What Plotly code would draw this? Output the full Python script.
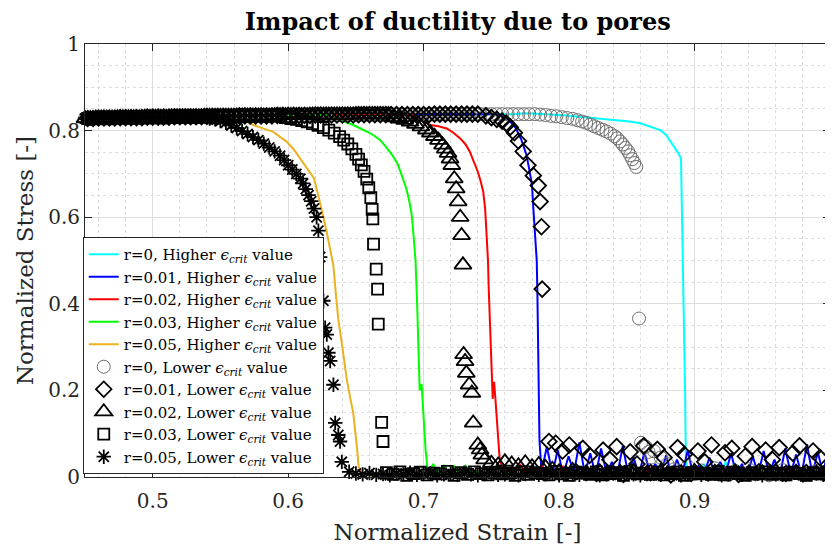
import plotly.graph_objects as go

# ---------------- shared strain grids ----------------
plateau_strain = [
    0.450, 0.454, 0.458, 0.462, 0.466, 0.470, 0.474, 0.478, 0.482, 0.486,
    0.490, 0.494, 0.498, 0.502, 0.506, 0.510, 0.514, 0.518, 0.522, 0.526,
    0.530, 0.534, 0.538, 0.542, 0.546, 0.550, 0.554, 0.558, 0.562, 0.566,
    0.570, 0.574, 0.578, 0.582, 0.586, 0.590, 0.594, 0.598, 0.602, 0.606,
    0.610, 0.614, 0.618, 0.622, 0.626, 0.630, 0.634, 0.638, 0.642, 0.646,
    0.650, 0.654, 0.658, 0.662, 0.666, 0.670, 0.674, 0.678, 0.682, 0.686,
    0.690, 0.694, 0.698, 0.702, 0.706, 0.710, 0.714, 0.718, 0.722, 0.726,
    0.730, 0.734, 0.738, 0.742, 0.746, 0.750, 0.754, 0.758, 0.762, 0.766,
    0.770, 0.774, 0.778]
plateau_strain_mid = [
    0.452, 0.456, 0.460, 0.464, 0.468, 0.472, 0.476, 0.480, 0.484, 0.488,
    0.492, 0.496, 0.500, 0.504, 0.508, 0.512, 0.516, 0.520, 0.524, 0.528,
    0.532, 0.536, 0.540, 0.544, 0.548, 0.552, 0.556, 0.560, 0.564, 0.568,
    0.572, 0.576, 0.580, 0.584, 0.588, 0.592, 0.596, 0.600, 0.604, 0.608,
    0.612, 0.616, 0.620, 0.624, 0.628, 0.632, 0.636, 0.640, 0.644, 0.648,
    0.652, 0.656, 0.660, 0.664, 0.668, 0.672, 0.676, 0.680, 0.684, 0.688,
    0.692, 0.696, 0.700, 0.704, 0.708, 0.712, 0.716, 0.720, 0.724, 0.728,
    0.732, 0.736, 0.740, 0.744, 0.748, 0.752, 0.756, 0.760, 0.764, 0.768,
    0.772, 0.776, 0.780]
plateau_stress = [
    0.828, 0.828, 0.829, 0.829, 0.829, 0.829, 0.830, 0.830, 0.830, 0.830,
    0.830, 0.831, 0.831, 0.831, 0.831, 0.831, 0.832, 0.832, 0.832, 0.832,
    0.832, 0.832, 0.833, 0.833, 0.833, 0.833, 0.833, 0.833, 0.834, 0.834,
    0.834, 0.834, 0.834, 0.834, 0.834, 0.835, 0.835, 0.835, 0.835, 0.835,
    0.835, 0.835, 0.836, 0.836, 0.836, 0.836, 0.836, 0.836, 0.836, 0.836,
    0.837, 0.837, 0.837, 0.837, 0.837, 0.837, 0.837, 0.837, 0.837, 0.837,
    0.837, 0.837, 0.837, 0.837, 0.838, 0.838, 0.838, 0.838, 0.838, 0.838,
    0.838, 0.838, 0.838, 0.838, 0.838, 0.838, 0.838, 0.838, 0.838, 0.838,
    0.838, 0.838, 0.838]

# strain grids of the post-failure (residual) part, marker series
tail_strain = [
    0.645, 0.650, 0.655, 0.660, 0.665, 0.670, 0.675, 0.680, 0.685, 0.690,
    0.695, 0.700, 0.705, 0.710, 0.715, 0.720, 0.725, 0.730, 0.735, 0.740,
    0.745, 0.750, 0.755, 0.760, 0.765, 0.770, 0.775, 0.780, 0.785, 0.790,
    0.795, 0.800, 0.805, 0.810, 0.815, 0.820, 0.825, 0.830, 0.835, 0.840,
    0.845, 0.850, 0.855, 0.860, 0.865, 0.870, 0.875, 0.880, 0.885, 0.890,
    0.895, 0.900, 0.905, 0.910, 0.915, 0.920, 0.925, 0.930, 0.935, 0.940,
    0.945, 0.950, 0.955, 0.960, 0.965, 0.970, 0.975, 0.980, 0.985, 0.990,
    0.995, 1.000]
tail_strain_mid = [
    0.6475, 0.6525, 0.6575, 0.6625, 0.6675, 0.6725, 0.6775, 0.6825, 0.6875, 0.6925,
    0.6975, 0.7025, 0.7075, 0.7125, 0.7175, 0.7225, 0.7275, 0.7325, 0.7375, 0.7425,
    0.7475, 0.7525, 0.7575, 0.7625, 0.7675, 0.7725, 0.7775, 0.7825, 0.7875, 0.7925,
    0.7975, 0.8025, 0.8075, 0.8125, 0.8175, 0.8225, 0.8275, 0.8325, 0.8375, 0.8425,
    0.8475, 0.8525, 0.8575, 0.8625, 0.8675, 0.8725, 0.8775, 0.8825, 0.8875, 0.8925,
    0.8975, 0.9025, 0.9075, 0.9125, 0.9175, 0.9225, 0.9275, 0.9325, 0.9375, 0.9425,
    0.9475, 0.9525, 0.9575, 0.9625, 0.9675, 0.9725, 0.9775, 0.9825, 0.9875, 0.9925,
    0.9975]
# strain grid of the post-failure part, line series
line_tail_strain = [
    0.703, 0.707, 0.711, 0.715, 0.719, 0.723, 0.727, 0.731, 0.735, 0.739,
    0.743, 0.747, 0.751, 0.755, 0.759, 0.763, 0.767, 0.771, 0.775, 0.779,
    0.783, 0.787, 0.791, 0.795, 0.799, 0.803, 0.807, 0.811, 0.815, 0.819,
    0.823, 0.827, 0.831, 0.835, 0.839, 0.843, 0.847, 0.851, 0.855, 0.859,
    0.863, 0.867, 0.871, 0.875, 0.879, 0.883, 0.887, 0.891, 0.895, 0.899,
    0.903, 0.907, 0.911, 0.915, 0.919, 0.923, 0.927, 0.931, 0.935, 0.939,
    0.943, 0.947, 0.951, 0.955, 0.959, 0.963, 0.967, 0.971, 0.975, 0.979,
    0.983, 0.987, 0.991, 0.995, 0.999]

# ---------------- Higher eps_crit (lines) ----------------
r0_hi_onset = 0.770
r0_hi_strain = [0.775, 0.785, 0.795, 0.805, 0.8156, 0.825, 0.835, 0.845, 0.852, 0.860,
                0.866, 0.8747, 0.879, 0.8845, 0.888, 0.890, 0.8906, 0.892, 0.8931, 0.8935, 0.894]
r0_hi_stress = [0.840, 0.839, 0.837, 0.835, 0.832, 0.830, 0.827, 0.824, 0.821, 0.817,
                0.811, 0.801, 0.790, 0.766, 0.748, 0.7355, 0.643, 0.400, 0.179, 0.060, 0.010]
r0_hi_tail = [0.020, 0.006, 0.030, 0.004, 0.025, 0.008, 0.035, 0.005, 0.018, 0.004,
              0.012, 0.006, 0.010, 0.004, 0.008, 0.005, 0.012, 0.004, 0.009, 0.006,
              0.010, 0.004, 0.008, 0.005, 0.011, 0.006]

r001_hi_onset = 0.756
r001_hi_strain = [0.758, 0.761, 0.764, 0.768, 0.772, 0.776, 0.778, 0.780, 0.781, 0.782,
                  0.783, 0.7835, 0.784, 0.7845, 0.7848, 0.785, 0.7855]
r001_hi_stress = [0.834, 0.829, 0.821, 0.806, 0.780, 0.743, 0.710, 0.674, 0.620, 0.580,
                  0.540, 0.500, 0.420, 0.300, 0.200, 0.120, 0.086]
r001_hi_tail = [0.012, 0.070, 0.008, 0.062, 0.005, 0.048, 0.010, 0.080, 0.006, 0.055,
                0.004, 0.066, 0.009, 0.035, 0.005, 0.072, 0.007, 0.045, 0.004, 0.058,
                0.010, 0.030, 0.006, 0.050, 0.005, 0.040, 0.008, 0.062, 0.004, 0.025,
                0.007, 0.045, 0.005, 0.035, 0.009, 0.055, 0.004, 0.030, 0.006, 0.048,
                0.005, 0.060, 0.008, 0.040, 0.004, 0.066, 0.007, 0.052, 0.005, 0.075,
                0.006, 0.058, 0.004, 0.080]

r002_hi_onset = 0.692
r002_hi_strain = [0.695, 0.700, 0.7048, 0.711, 0.717, 0.722, 0.727, 0.731, 0.734, 0.737,
                  0.740, 0.742, 0.744, 0.7454, 0.7465, 0.7475, 0.748, 0.749, 0.750, 0.7505,
                  0.751, 0.7513, 0.752, 0.753, 0.7545, 0.756]
r002_hi_stress = [0.833, 0.824, 0.813, 0.810, 0.805, 0.795, 0.782, 0.768, 0.752, 0.730,
                  0.705, 0.684, 0.659, 0.620, 0.570, 0.500, 0.440, 0.360, 0.290, 0.230,
                  0.180, 0.205, 0.220, 0.180, 0.110, 0.047]
r002_hi_tail = [0.006, 0.020, 0.005, 0.030, 0.008, 0.022, 0.004, 0.026, 0.007, 0.018,
                0.005, 0.024, 0.006, 0.015, 0.004, 0.020, 0.008, 0.012, 0.005, 0.022,
                0.006, 0.010, 0.004, 0.018, 0.007, 0.014, 0.005, 0.020, 0.006, 0.011,
                0.004, 0.016, 0.008, 0.010, 0.005, 0.022, 0.006, 0.013, 0.004, 0.018,
                0.007, 0.012, 0.005, 0.020, 0.006, 0.010, 0.004, 0.015, 0.008, 0.024,
                0.005, 0.012, 0.006, 0.018, 0.004, 0.010, 0.007, 0.016, 0.005, 0.020,
                0.006]

r003_hi_onset = 0.636
r003_hi_strain = [0.640, 0.645, 0.650, 0.655, 0.660, 0.664, 0.668, 0.672, 0.677, 0.681,
                  0.684, 0.687, 0.689, 0.691, 0.692, 0.693, 0.694, 0.695, 0.696, 0.6974,
                  0.6971, 0.6985, 0.700, 0.7015, 0.7023]
r003_hi_stress = [0.822, 0.817, 0.810, 0.803, 0.795, 0.787, 0.778, 0.763, 0.743, 0.722,
                  0.697, 0.668, 0.643, 0.610, 0.580, 0.540, 0.500, 0.420, 0.320, 0.225,
                  0.200, 0.215, 0.120, 0.060, 0.039]
r003_hi_tail = [0.004, 0.030, 0.006, 0.028, 0.005, 0.024, 0.004, 0.026, 0.006, 0.012,
                0.004, 0.010, 0.005, 0.008, 0.003, 0.012, 0.006, 0.004, 0.009, 0.005,
                0.011, 0.004, 0.007, 0.003, 0.010, 0.006, 0.004, 0.008, 0.005, 0.012,
                0.004, 0.007, 0.003, 0.009, 0.006, 0.004, 0.010, 0.005, 0.008, 0.003,
                0.011, 0.004, 0.006, 0.009, 0.003, 0.007, 0.005, 0.010, 0.004, 0.008,
                0.003, 0.006, 0.011, 0.004, 0.007, 0.005, 0.009, 0.003, 0.006, 0.010,
                0.004, 0.008, 0.005, 0.003, 0.009, 0.006, 0.004, 0.011, 0.005, 0.007,
                0.003, 0.008, 0.006, 0.004, 0.009]

r005_hi_onset = 0.560
r005_hi_strain = [0.562, 0.566, 0.5743, 0.580, 0.585, 0.589, 0.594, 0.599, 0.604, 0.6088,
                  0.612, 0.616, 0.619, 0.621, 0.624, 0.626, 0.6285, 0.631, 0.6334, 0.635,
                  0.637, 0.640, 0.6433, 0.646, 0.648, 0.6507, 0.652]
r005_hi_stress = [0.830, 0.826, 0.813, 0.806, 0.801, 0.797, 0.786, 0.774, 0.757, 0.7355,
                  0.722, 0.705, 0.690, 0.666, 0.630, 0.600, 0.565, 0.525, 0.488, 0.430,
                  0.364, 0.300, 0.225, 0.180, 0.148, 0.070, 0.024]
r005_hi_tail_strain = [0.655, 0.660, 0.670, 0.680, 0.690, 0.700, 0.750, 0.800, 0.850, 0.900, 0.950, 1.000]
r005_hi_tail = [0.006, 0.004, 0.008, 0.005, 0.007, 0.004, 0.006, 0.005, 0.004, 0.006, 0.005, 0.004]

# ---------------- Lower eps_crit (markers) ----------------
r0_lo_onset = 0.780
r0_lo_strain = [0.782, 0.786, 0.790, 0.794, 0.798, 0.802, 0.806, 0.810, 0.8135, 0.817,
                0.820, 0.823, 0.826, 0.829, 0.832, 0.835, 0.838, 0.841, 0.843, 0.845,
                0.847, 0.849, 0.851, 0.8525, 0.854, 0.8555, 0.857, 0.859, 0.8605, 0.862,
                0.864, 0.866, 0.868]
r0_lo_stress = [0.838, 0.837, 0.836, 0.834, 0.833, 0.831, 0.829, 0.827, 0.824, 0.821,
                0.818, 0.814, 0.810, 0.806, 0.802, 0.798, 0.793, 0.787, 0.782, 0.775,
                0.768, 0.760, 0.752, 0.743, 0.734, 0.725, 0.716, 0.366, 0.079, 0.072,
                0.070, 0.058, 0.045]
r0_lo_tail = [0.060, 0.045, 0.030, 0.018, 0.010, 0.025, 0.008, 0.015, 0.006, 0.020,
              0.010, 0.005, 0.014, 0.008, 0.018, 0.006, 0.012, 0.004, 0.010, 0.016,
              0.007, 0.012, 0.005, 0.009, 0.014, 0.006, 0.010]

r001_lo_onset = 0.744
r001_lo_strain = [0.746, 0.750, 0.754, 0.758, 0.761, 0.764, 0.767, 0.770, 0.7735, 0.777,
                  0.781, 0.7846, 0.786, 0.787]
r001_lo_stress = [0.834, 0.830, 0.826, 0.822, 0.817, 0.808, 0.795, 0.776, 0.752, 0.720,
                  0.696, 0.673, 0.636, 0.578]
r001_lo_tail = [0.434, 0.082, 0.078, 0.060, 0.074, 0.012, 0.066, 0.050, 0.008, 0.062,
                0.040, 0.070, 0.006, 0.058, 0.030, 0.072, 0.010, 0.064, 0.045, 0.005,
                0.068, 0.052, 0.008, 0.060, 0.035, 0.074, 0.010, 0.056, 0.066, 0.006,
                0.048, 0.070, 0.012, 0.062, 0.040, 0.068, 0.008, 0.055, 0.072, 0.010,
                0.060, 0.045, 0.006]

r002_lo_onset = 0.676
r002_lo_strain = [0.678, 0.682, 0.686, 0.690, 0.694, 0.698, 0.702, 0.705, 0.708, 0.711,
                  0.714, 0.716, 0.718, 0.7195, 0.7208, 0.7226, 0.724, 0.7255, 0.727, 0.728,
                  0.729, 0.7295, 0.7306, 0.7315, 0.7336, 0.7356, 0.7366, 0.740, 0.7417, 0.743]
r002_lo_stress = [0.830, 0.827, 0.824, 0.820, 0.815, 0.809, 0.802, 0.795, 0.787, 0.778,
                  0.767, 0.758, 0.748, 0.735, 0.720, 0.689, 0.666, 0.636, 0.600, 0.558,
                  0.490, 0.283, 0.267, 0.240, 0.213, 0.194, 0.125, 0.074, 0.063, 0.051]
r002_lo_tail = [0.040, 0.032, 0.028, 0.035, 0.030, 0.026, 0.033, 0.024, 0.029, 0.022,
                0.018, 0.012, 0.008, 0.015, 0.006, 0.010, 0.004, 0.012, 0.008, 0.005,
                0.011, 0.007, 0.014, 0.006, 0.009, 0.004, 0.012, 0.008, 0.005, 0.010,
                0.006, 0.013, 0.007, 0.004, 0.011, 0.008, 0.005, 0.012, 0.006, 0.009,
                0.004, 0.010, 0.007, 0.013, 0.005, 0.008, 0.011, 0.006, 0.004, 0.009,
                0.007, 0.010]

r003_lo_onset = 0.596
r003_lo_strain = [0.598, 0.602, 0.606, 0.610, 0.614, 0.618, 0.622, 0.626, 0.630, 0.634,
                  0.638, 0.641, 0.644, 0.647, 0.650, 0.652, 0.654, 0.656, 0.658, 0.6595,
                  0.661, 0.662, 0.6625, 0.663, 0.665, 0.666, 0.6665, 0.669, 0.670]
r003_lo_stress = [0.830, 0.828, 0.826, 0.823, 0.820, 0.816, 0.812, 0.807, 0.801, 0.794,
                  0.786, 0.778, 0.769, 0.758, 0.745, 0.734, 0.721, 0.706, 0.688, 0.668,
                  0.645, 0.618, 0.596, 0.538, 0.480, 0.434, 0.353, 0.126, 0.082]
r003_lo_tail = [0.010, 0.006, 0.012, 0.004, 0.008, 0.011, 0.005, 0.009, 0.007, 0.013,
                0.004, 0.010, 0.006, 0.012, 0.008, 0.005, 0.011, 0.007, 0.009, 0.004,
                0.012, 0.006, 0.010, 0.008, 0.005, 0.013, 0.007, 0.004, 0.011, 0.009,
                0.006, 0.012, 0.005, 0.008, 0.010, 0.004, 0.013, 0.007, 0.009, 0.006,
                0.011, 0.005, 0.008, 0.012, 0.004, 0.010, 0.007, 0.009, 0.006, 0.013,
                0.005, 0.011, 0.008, 0.004, 0.010, 0.007, 0.012, 0.006, 0.009, 0.005,
                0.011, 0.008, 0.004, 0.010, 0.007, 0.012]

r005_lo_onset = 0.540
r005_lo_strain = [0.542, 0.546, 0.550, 0.554, 0.558, 0.562, 0.566, 0.570, 0.574, 0.578,
                  0.582, 0.586, 0.590, 0.594, 0.597, 0.600, 0.603, 0.606, 0.609, 0.611,
                  0.613, 0.615, 0.617, 0.619, 0.621, 0.6223, 0.6236, 0.626, 0.6273, 0.6285,
                  0.6297, 0.631, 0.6334, 0.6347, 0.637, 0.6383, 0.6396]
r005_lo_stress = [0.828, 0.826, 0.822, 0.818, 0.812, 0.806, 0.799, 0.792, 0.785, 0.778,
                  0.770, 0.761, 0.752, 0.742, 0.732, 0.720, 0.710, 0.700, 0.689, 0.678,
                  0.665, 0.651, 0.637, 0.620, 0.600, 0.569, 0.508, 0.407, 0.345, 0.329,
                  0.287, 0.268, 0.213, 0.125, 0.097, 0.082, 0.035]
r005_lo_tail = [0.012, 0.008, 0.006, 0.009, 0.005, 0.007, 0.004, 0.008, 0.006, 0.010,
                0.005, 0.007, 0.009, 0.004, 0.006, 0.008, 0.005, 0.010, 0.006, 0.004,
                0.007, 0.009, 0.005, 0.006, 0.008, 0.004, 0.007, 0.010, 0.005, 0.006,
                0.008, 0.004, 0.009, 0.006, 0.005, 0.007, 0.010, 0.004, 0.006, 0.008,
                0.005, 0.009, 0.006, 0.004, 0.007, 0.008, 0.005, 0.010, 0.006, 0.004,
                0.007, 0.009, 0.005, 0.006, 0.008, 0.004, 0.007, 0.010, 0.005, 0.006,
                0.008, 0.004, 0.009, 0.006, 0.005, 0.007, 0.010, 0.004, 0.006, 0.008,
                0.005, 0.007]

legend_labels = [
    "r=0, Higher", "r=0.01, Higher", "r=0.02, Higher", "r=0.03, Higher", "r=0.05, Higher",
    "r=0, Lower", "r=0.01, Lower", "r=0.02, Lower", "r=0.03, Lower", "r=0.05, Lower"]


def build(onset, grid, curve_x, curve_y, tail_grid, tail_y):
    px = [s for s in grid if s < onset]
    py = plateau_stress[:len(px)]
    tx = tail_grid[len(tail_grid) - len(tail_y):]
    return px + curve_x + tx, py + curve_y + tail_y


def label(i):
    return legend_labels[i] + " <i>ϵ</i><sub><i>crit</i></sub> value"


FONT = "DejaVu Serif"
fig = go.Figure()

line_series = [
    (r0_hi_onset, r0_hi_strain, r0_hi_stress, line_tail_strain, r0_hi_tail, "#00FFFF"),
    (r001_hi_onset, r001_hi_strain, r001_hi_stress, line_tail_strain, r001_hi_tail, "#0000FF"),
    (r002_hi_onset, r002_hi_strain, r002_hi_stress, line_tail_strain, r002_hi_tail, "#FF0000"),
    (r003_hi_onset, r003_hi_strain, r003_hi_stress, line_tail_strain, r003_hi_tail, "#00FF00"),
    (r005_hi_onset, r005_hi_strain, r005_hi_stress, r005_hi_tail_strain, r005_hi_tail, "#EDB120"),
]
for i, (on, cx, cy, tg, ty, col) in enumerate(line_series):
    x, y = build(on, plateau_strain, cx, cy, tg, ty)
    fig.add_trace(go.Scatter(x=x, y=y, mode="lines", name=label(i),
                             line=dict(color=col, width=2)))

marker_series = [
    (r0_lo_onset, plateau_strain, r0_lo_strain, r0_lo_stress, tail_strain, r0_lo_tail,
     "circle-open", 13, "#6e6e6e", 1),
    (r001_lo_onset, plateau_strain_mid, r001_lo_strain, r001_lo_stress, tail_strain_mid, r001_lo_tail,
     "diamond-open", 12, "#000000", 1.8),
    (r002_lo_onset, plateau_strain, r002_lo_strain, r002_lo_stress, tail_strain, r002_lo_tail,
     "triangle-up-open", 15, "#000000", 1.8),
    (r003_lo_onset, plateau_strain_mid, r003_lo_strain, r003_lo_stress, tail_strain_mid, r003_lo_tail,
     "square-open", 11, "#000000", 1.8),
    (r005_lo_onset, plateau_strain, r005_lo_strain, r005_lo_stress, tail_strain, r005_lo_tail,
     "asterisk-open", 12, "#000000", 1.8),
]
for j, (on, grid, cx, cy, tg, ty, sym, sz, col, lw) in enumerate(marker_series):
    x, y = build(on, grid, cx, cy, tg, ty)
    fig.add_trace(go.Scatter(x=x, y=y, mode="markers", name=label(5 + j), cliponaxis=False,
                             marker=dict(symbol=sym, size=sz, color=col,
                                         line=dict(color=col, width=lw))))

axis_common = dict(
    showline=True, linecolor="#262626", linewidth=1, mirror="ticks",
    ticks="inside", ticklen=7, tickcolor="#262626", tickwidth=1,
    showgrid=True, gridcolor="#dedede", gridwidth=1, zeroline=False,
    automargin=False, ticklabeloverflow="allow",
    tickfont=dict(family=FONT, size=20, color="#262626"),
)

# the page body adds an 8 px offset, so margins are set in figure coordinates
fig.update_layout(
    width=833, height=552,
    margin=dict(l=77, r=11, t=36, b=83),
    paper_bgcolor="white", plot_bgcolor="white",
    font=dict(family=FONT, color="#262626"),
    title=dict(text="<b>Impact of ductility due to pores</b>", x=0.540, xanchor="center",
               y=0.976, yanchor="middle", yref="container",
               font=dict(family=FONT, size=24, color="#000000")),
    xaxis=dict(range=[0.45, 1.0], tickvals=[0.5, 0.6, 0.7, 0.8, 0.9, 1.0],
               ticktext=["0.5", "0.6", "0.7", "0.8", "0.9", "1"],
               ticklabelstandoff=6,
               title=dict(text="Normalized Strain [-]", standoff=11,
                          font=dict(family=FONT, size=23, color="#262626")),
               minor=dict(dtick=0.02, tick0=0, showgrid=True, gridcolor="#dedede",
                          griddash="dot", ticks=""),
               **axis_common),
    yaxis=dict(range=[0, 1], tickvals=[0, 0.2, 0.4, 0.6, 0.8, 1.0],
               ticktext=["0", "0.2", "0.4", "0.6", "0.8", "1"],
               title=dict(text="Normalized Stress [-]", standoff=8,
                          font=dict(family=FONT, size=23, color="#262626")),
               minor=dict(dtick=0.05, tick0=0, showgrid=True, gridcolor="#dedede",
                          griddash="dot", ticks=""),
               **axis_common),
    legend=dict(x=-0.003, y=0.007, xanchor="left", yanchor="bottom",
                bgcolor="white", bordercolor="#262626", borderwidth=1,
                font=dict(family=FONT, size=15, color="#000000"),
                tracegroupgap=0, itemwidth=30),
    showlegend=True,
)

fig.write_html("out.html")
